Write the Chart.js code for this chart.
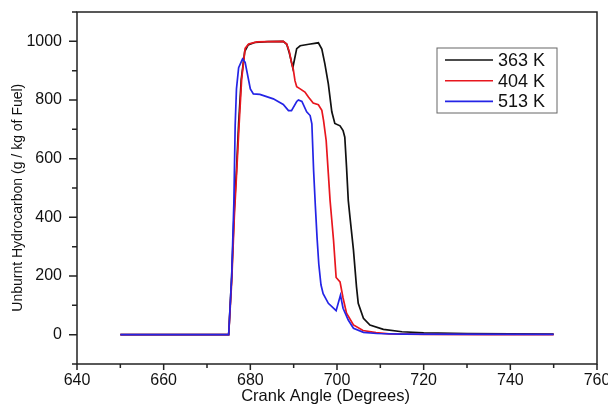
<!DOCTYPE html>
<html>
<head>
<meta charset="utf-8">
<script src="https://cdn.jsdelivr.net/npm/chart.js@4.4.1/dist/chart.umd.min.js"></script>
<style>
  html, body { margin: 0; padding: 0; background: #fff; }
</style>
</head>
<body>
<canvas id="hcChart" width="608" height="407"></canvas>
<script>
// series names
const labels = ['363 K', '404 K', '513 K'];

// crank angle (deg) / unburnt HC (g/kg fuel)
const angle363 = [650, 675, 675.7, 676.3, 676.8, 677.3, 677.9, 678.7, 679.5, 681, 684, 687.6, 688.4, 689, 689.8, 690.7, 691.5, 693.5, 695.7, 696.5, 697.2, 698, 698.8, 699.5, 700.7, 701.4, 701.8, 702.2, 702.6, 703, 703.8, 704.5, 704.9, 706.1, 707.6, 710.7, 715, 720, 730, 740, 750];
const hc363 = [0, 0, 200, 430, 560, 720, 870, 965, 988, 996, 999, 1000, 990, 960, 910, 975, 985, 990, 995, 974, 923, 855, 760, 720, 712, 696, 673, 571, 458, 400, 288, 163, 107, 56, 33, 18, 10, 6, 4, 3, 2];

const angle404 = [650, 675, 675.7, 676.3, 676.8, 677.4, 678, 678.8, 679.6, 681.5, 684, 687.6, 688.4, 689, 689.5, 689.9, 690.3, 690.7, 691.5, 692.6, 693.4, 694.5, 695.7, 696.5, 696.9, 697.5, 698, 698.4, 698.8, 699.2, 699.8, 700.7, 701.4, 702.2, 703.8, 706, 709, 712, 720, 735, 750];
const hc404 = [0, 0, 180, 400, 540, 713, 872, 976, 991, 998, 999, 1000, 991, 965, 928, 906, 866, 845, 838, 827, 810, 790, 784, 765, 730, 662, 549, 458, 390, 322, 195, 180, 125, 73, 33, 14, 7, 3, 1, 0, 0];

const angle513 = [650, 675, 675.7, 676.2, 676.5, 676.8, 677.3, 678.2, 678.8, 680, 680.7, 682.2, 685.3, 687.6, 688.8, 689.5, 690.7, 691.1, 691.9, 693, 693.8, 694.2, 694.6, 695, 695.4, 695.8, 696.3, 696.8, 698, 699.8, 700.8, 701.4, 702.6, 703.8, 706.1, 709.2, 715, 750];
const hc513 = [0, 0, 200, 450, 713, 838, 910, 940, 928, 838, 821, 819, 804, 785, 764, 764, 795, 800, 795, 760, 747, 719, 560, 440, 330, 240, 170, 140, 107, 82, 135, 90, 50, 22, 8, 4, 2, 1];

const colors = ['#111111', '#e8161e', '#2424e6'];

function toPoints(xs, ys) {
    return xs.map((x, i) => ({ x: x, y: ys[i] }));
}

// frame round the plot + outward tick marks (major / minor)
const frameTicks = {
    id: 'frameTicks',
    afterDraw(chart) {
        const ctx = chart.ctx;
        const a = chart.chartArea;
        const xs = chart.scales.x;
        const ys = chart.scales.y;
        ctx.save();
        ctx.strokeStyle = '#222';
        ctx.lineWidth = 1.5;
        ctx.strokeRect(a.left, a.top, a.right - a.left, a.bottom - a.top);
        ctx.beginPath();
        xs.ticks.forEach(t => {
            const px = xs.getPixelForValue(t.value);
            const len = t.value % 20 === 0 ? 6 : 4;
            ctx.moveTo(px, a.bottom);
            ctx.lineTo(px, a.bottom + len);
        });
        ys.ticks.forEach(t => {
            const py = ys.getPixelForValue(t.value);
            const len = t.value % 200 === 0 ? 8 : 5;
            ctx.moveTo(a.left, py);
            ctx.lineTo(a.left - len, py);
        });
        ctx.stroke();
        ctx.restore();
    }
};

// boxed legend inside the plot, top right
const boxLegend = {
    id: 'boxLegend',
    afterDraw(chart) {
        const ctx = chart.ctx;
        const a = chart.chartArea;
        const left = a.left + 360;
        const top = a.top + 36;
        ctx.save();
        ctx.strokeStyle = '#666';
        ctx.lineWidth = 1;
        ctx.strokeRect(left, top, 120, 65);
        ctx.font = '18px "Liberation Sans", Arial, sans-serif';
        ctx.textBaseline = 'middle';
        ctx.fillStyle = '#111';
        chart.data.datasets.forEach((ds, i) => {
            const yy = top + 12 + i * 20.7;
            ctx.strokeStyle = ds.borderColor;
            ctx.lineWidth = 1.6;
            ctx.beginPath();
            ctx.moveTo(left + 8, yy);
            ctx.lineTo(left + 56, yy);
            ctx.stroke();
            ctx.fillText(ds.label, left + 61, yy + 1);
        });
        ctx.restore();
    }
};

const ctx = document.getElementById('hcChart').getContext('2d');

const chart = new Chart(ctx, {
    type: 'line',
    data: {
        datasets: [{
            label: labels[0],
            data: toPoints(angle363, hc363),
            borderColor: colors[0],
            order: 3
        }, {
            label: labels[1],
            data: toPoints(angle404, hc404),
            borderColor: colors[1],
            order: 2
        }, {
            label: labels[2],
            data: toPoints(angle513, hc513),
            borderColor: colors[2],
            order: 1
        }]
    },
    options: {
        responsive: false,
        animation: false,
        layout: { padding: { left: 0, right: 11, top: 12, bottom: 0 } },
        elements: {
            line: { borderWidth: 1.7, tension: 0, fill: false },
            point: { radius: 0 }
        },
        plugins: {
            legend: { display: false },
            tooltip: { enabled: false }
        },
        scales: {
            x: {
                type: 'linear',
                min: 640,
                max: 760,
                grid: { display: false, drawTicks: false },
                border: { display: false },
                ticks: {
                    stepSize: 10,
                    autoSkip: false,
                    maxRotation: 0,
                    padding: 7,
                    color: '#111',
                    font: { family: '"Liberation Sans", Arial, sans-serif', size: 16 },
                    callback: v => (v % 20 === 0 ? String(v) : '')
                },
                title: {
                    display: true,
                    // trailing spaces nudge the centred title a little left, as in the source
                    text: 'Crank Angle (Degrees)     ',
                    color: '#111',
                    padding: { top: 0, bottom: 1 },
                    font: { family: '"Liberation Sans", Arial, sans-serif', size: 16.5 }
                },
                afterFit: s => { s.height = 43; s.paddingLeft = 0; s.paddingRight = 0; }
            },
            y: {
                min: -100,
                max: 1100,
                grid: { display: false, drawTicks: false },
                border: { display: false },
                ticks: {
                    stepSize: 100,
                    autoSkip: false,
                    padding: 15,
                    color: '#111',
                    font: { family: '"Liberation Sans", Arial, sans-serif', size: 16 },
                    callback: v => (v % 200 === 0 && v >= 0 && v <= 1000 ? String(v) : '')
                },
                title: {
                    display: true,
                    text: 'Unburnt Hydrocarbon (g / kg of Fuel)     ',
                    color: '#111',
                    padding: { top: 10, bottom: 0 },
                    font: { family: '"Liberation Sans", Arial, sans-serif', size: 14 }
                },
                afterFit: s => { s.width = 77; s.paddingTop = 0; s.paddingBottom = 0; }
            }
        }
    },
    plugins: [frameTicks, boxLegend]
});
</script>
</body>
</html>
